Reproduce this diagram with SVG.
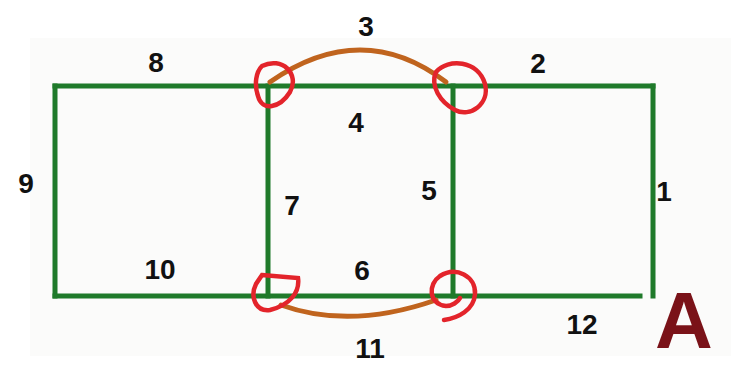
<svg xmlns="http://www.w3.org/2000/svg" width="731" height="366" viewBox="0 0 731 366">
<style>
.e{stroke:#1f7a2a;stroke-width:5;fill:none;stroke-linecap:square}
.arc{stroke:#c0641e;stroke-width:5;fill:none;stroke-linecap:round}
.ring{stroke:#e3242b;stroke-width:4.5;fill:none;stroke-linecap:round}
.t{font-family:"Liberation Sans",Arial,sans-serif;font-weight:bold;font-size:28px;fill:#111;text-anchor:middle}
</style>
<rect x="0" y="0" width="731" height="366" fill="#ffffff"/>
<rect x="30" y="38" width="701" height="318" fill="#fbfbfa"/>
<g id="connectors">
<path class="e" d="M55 86 H653"/>
<path class="e" d="M55 86 V296"/>
<path class="e" d="M55 296 H640"/>
<path class="e" d="M653 86 V296"/>
<path class="e" d="M268 86 V296"/>
<path class="e" d="M453 86 V296"/>
<path class="arc" d="M270 82 Q362 18 446 82"/>
<path class="arc" d="M281 305 Q350 330 436 300"/>
</g>
<g id="n-tl"><path class="ring" d="M262 66 C282 56 300 74 290 92 C280 108 262 112 258 96 C254 84 256 72 262 66 Z"/></g>
<g id="n-tr"><path class="ring" d="M436 72 C448 58 478 60 485 84 C490 104 470 118 455 110 C440 102 430 86 436 72 Z"/></g>
<g id="n-bl"><path class="ring" d="M262 275 L298 278 C300 292 290 305 270 310 C255 312 250 296 256 284 Z"/></g>
<g id="n-br"><path class="ring" d="M440 276 C456 266 476 276 475 294 C474 310 458 318 444 320 M440 276 C428 284 428 304 446 306 C452 306 458 302 460 298"/></g>
<g id="labels">
<text class="t" x="366" y="36">3</text>
<text class="t" x="156" y="72">8</text>
<text class="t" x="538" y="73">2</text>
<text class="t" x="356" y="132">4</text>
<text class="t" x="26" y="193">9</text>
<text class="t" x="292" y="215">7</text>
<text class="t" x="429" y="200">5</text>
<text class="t" x="664" y="201">1</text>
<text class="t" x="160" y="279">10</text>
<text class="t" x="362" y="280">6</text>
<text class="t" x="582" y="334">12</text>
<text class="t" x="370" y="358">11</text>
<text x="684" y="348" font-family="Liberation Sans,Arial,sans-serif" font-weight="bold" font-size="80" fill="#7a1218" text-anchor="middle">A</text>
</g>
</svg>
